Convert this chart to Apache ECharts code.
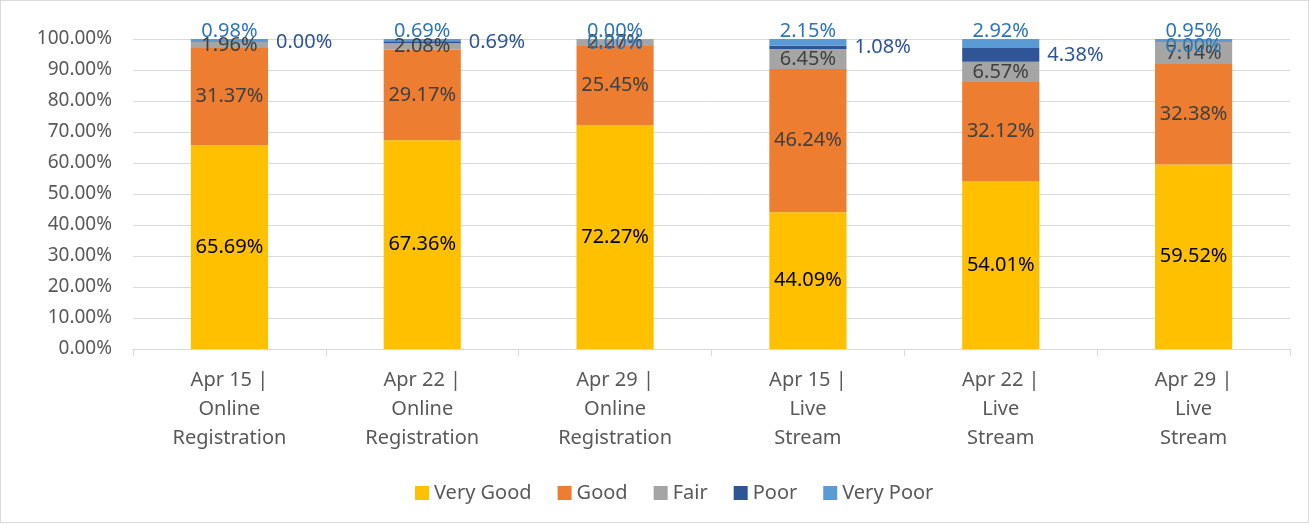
<!DOCTYPE html>
<html>
<head>
<meta charset="utf-8">
<script src="https://cdn.jsdelivr.net/npm/echarts@6/dist/echarts.min.js"></script>
<style>
  html, body { margin: 0; padding: 0; background: #fff; }
  #main { width: 1307px; height: 521px; border: 1px solid #d9d9d9; }
</style>
</head>
<body>
<div id="main"></div>
<script>
var categories = [
    'Apr 15 |\nOnline\nRegistration', 'Apr 22 |\nOnline\nRegistration', 'Apr 29 |\nOnline\nRegistration',
    'Apr 15 |\nLive\nStream', 'Apr 22 |\nLive\nStream', 'Apr 29 |\nLive\nStream'
];
var veryGood = [65.69, 67.36, 72.27, 44.09, 54.01, 59.52];
var good = [31.37, 29.17, 25.45, 46.24, 32.12, 32.38];
var fair = [1.96, 2.08, 2.27, 6.45, 6.57, 7.14];
var poor = [0.00, 0.69, 0.00, 1.08, 4.38, 0.00];
var veryPoor = [0.98, 0.69, 0.00, 2.15, 2.92, 0.95];
// poor labels that sit inside the bar instead of to the right
var poorInside = [false, false, true, false, false, true];

var font = 'Noto Sans';
var pct = function (p) { return p.value.toFixed(2) + '%'; };

var myChart = echarts.init(document.getElementById('main'));

function bar(name, data, color, label) {
    return {
        name: name,
        type: 'bar',
        stack: 'total',
        barWidth: '40%',
        data: data,
        itemStyle: { color: color },
        label: Object.assign({ show: true, formatter: pct, fontFamily: font, fontSize: 20 }, label)
    };
}

var poorData = poor.map(function (v, i) {
    if (poorInside[i]) {
        return { value: v, label: { position: 'inside', offset: [0, 4], color: '#2E75B6' } };
    }
    return v;
});

var option = {
    animation: false,
    textStyle: { fontFamily: font },
    grid: { left: 132, right: 18, top: 38, bottom: 173 },
    legend: {
        left: 409,
        bottom: 14,
        icon: 'rect',
        itemWidth: 14,
        itemHeight: 14,
        itemGap: 26,
        textStyle: { color: '#595959', fontSize: 20, fontFamily: font },
        data: ['Very Good', 'Good', 'Fair', 'Poor', 'Very Poor']
    },
    xAxis: {
        type: 'category',
        data: categories,
        axisLine: { lineStyle: { color: '#d9d9d9' } },
        axisTick: { show: true, length: 7, lineStyle: { color: '#d9d9d9' } },
        axisLabel: { color: '#595959', fontSize: 20, lineHeight: 29, margin: 17, fontFamily: font }
    },
    yAxis: {
        type: 'value',
        min: 0,
        max: 100,
        interval: 10,
        axisLabel: {
            color: '#595959', fontSize: 19, margin: 21, fontFamily: font,
            formatter: function (v) { return v.toFixed(2) + '%'; }
        },
        splitLine: { lineStyle: { color: '#d9d9d9' } }
    },
    series: [
        bar('Very Good', veryGood, '#FFC000', { position: 'inside', color: '#000' }),
        bar('Good', good, '#ED7D31', { position: 'inside', color: '#404040' }),
        bar('Fair', fair, '#A5A5A5', { position: 'inside', color: '#404040' }),
        bar('Poor', poorData, '#2F5597', { position: 'right', distance: 8, color: '#2F5597' }),
        bar('Very Poor', veryPoor, '#5B9BD5', { position: 'top', distance: -2, color: '#2E75B6' })
    ]
};

myChart.setOption(option);
</script>
</body>
</html>
